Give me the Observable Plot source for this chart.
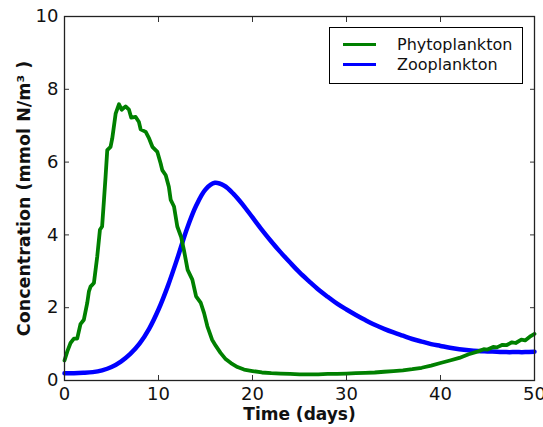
<!DOCTYPE html>
<html>
<head>
<meta charset="utf-8">
<script src="https://cdn.jsdelivr.net/npm/d3@7"></script>
<script src="https://cdn.jsdelivr.net/npm/@observablehq/plot@0.6"></script>
<style>
  html, body { margin: 0; padding: 0; background: #fff; }
  #wrap { position: relative; width: 543px; height: 427px; font-family: "DejaVu Sans", sans-serif; }
  #legend { position: absolute; left: 329px; top: 27px; width: 194px; height: 57px; border: 1.3px solid #000; background: #fff; box-sizing: border-box; }
  .item { position: absolute; left: 0; height: 20px; display: flex; align-items: center; font-size: 16px; color: #111; }
  .sw { width: 33px; height: 0; margin-left: 13px; margin-right: 21px; border-top: 3.5px solid; }
</style>
</head>
<body>
<div id="wrap"></div>
<script>
// ---- data ----
const phytoT = [0,0.3,0.64,1.0,1.35,1.7,2.06,2.42,2.6,2.77,3.13,3.48,3.77,4.0,4.2,4.37,4.55,4.9,5.08,5.44,5.8,6.08,6.5,6.86,7.1,7.57,7.92,8.1,8.64,9.0,9.35,9.88,10.23,10.4,10.77,11.1,11.3,11.65,12.0,12.4,12.7,13.1,13.6,14.0,14.5,14.85,15.2,15.7,16.1,16.6,17.1,17.7,18.4,19.1,20,21,22,23,24,25,26,27,28,29,30,31,32,33,34,35,36,37,38,39,40,41,42,43,44,44.6,45,45.6,46,46.6,47,47.6,48,48.6,49,49.6,50];
const phytoV = [0.55,0.8,1.03,1.15,1.15,1.55,1.67,2.13,2.45,2.58,2.68,3.4,4.14,4.23,4.96,5.6,6.33,6.42,6.65,7.33,7.59,7.44,7.53,7.44,7.22,7.24,7.1,6.9,6.83,6.65,6.42,6.28,5.96,5.78,5.64,5.32,4.96,4.78,4.23,3.95,3.59,3.04,2.77,2.31,2.13,1.85,1.49,1.12,0.95,0.76,0.6,0.48,0.37,0.3,0.26,0.22,0.2,0.19,0.18,0.17,0.17,0.17,0.18,0.18,0.19,0.2,0.21,0.22,0.24,0.26,0.28,0.31,0.35,0.41,0.48,0.55,0.62,0.72,0.8,0.86,0.85,0.92,0.91,0.98,0.97,1.05,1.03,1.12,1.1,1.22,1.28];
const zooT = [0,1,2,3,4,5,6,7,8,9,10,11,12,13,14,15,16,17,18,19,20,21,22,23,24,25,26,27,28,29,30,31,32,33,34,35,36,37,38,39,40,41,42,43,44,45,46,47,48,49,50];
const zooV = [0.2,0.2,0.21,0.23,0.28,0.37,0.52,0.73,1.02,1.42,1.95,2.6,3.35,4.15,4.8,5.25,5.43,5.35,5.12,4.82,4.48,4.14,3.82,3.52,3.24,2.97,2.73,2.5,2.3,2.11,1.95,1.8,1.66,1.53,1.42,1.32,1.23,1.14,1.07,1.0,0.95,0.9,0.86,0.83,0.81,0.8,0.79,0.78,0.78,0.78,0.79];
const xTicks = [0,10,20,30,40,50];
const yTicks = [0,2,4,6,8,10];
const seriesNames = ["Phytoplankton","Zooplankton"];
const seriesColors = ["#008000","#0000ff"];
const xLabel = "Time (days)";
const yLabel = "Concentration (mmol N/m\u00b3 )";

const phyto = phytoT.map((t,i)=>({t, v: phytoV[i]}));
const zoo = zooT.map((t,i)=>({t, v: zooV[i]}));

const chart = Plot.plot({
  width: 543, height: 427,
  marginLeft: 64, marginRight: 9, marginTop: 16, marginBottom: 47,
  style: {fontFamily: "DejaVu Sans, sans-serif", fontSize: "18px", color: "#111", background: "#fff", overflow: "visible"},
  x: {domain: [0,50]},
  y: {domain: [0,10]},
  marks: [
    Plot.line(zoo, {x: "t", y: "v", stroke: seriesColors[1], strokeWidth: 4.5, curve: "catmull-rom"}),
    Plot.line(phyto, {x: "t", y: "v", stroke: seriesColors[0], strokeWidth: 3.8, curve: "linear", strokeLinejoin: "round"}),
    Plot.axisX({anchor: "bottom", ticks: xTicks, tickSize: -5, tickPadding: 11.5, fontSize: 18, label: null, stroke: "#333"}),
    Plot.axisX({anchor: "top", ticks: xTicks, tickSize: -5, tickFormat: () => "", label: null, stroke: "#333"}),
    Plot.axisY({anchor: "left", ticks: yTicks, tickSize: -5, tickPadding: 11, fontSize: 18, label: null, stroke: "#333"}),
    Plot.axisY({anchor: "right", ticks: yTicks, tickSize: -5, tickFormat: () => "", label: null, stroke: "#333"}),
    Plot.frame({stroke: "#222", strokeWidth: 1.3}),
    Plot.text([xLabel], {frameAnchor: "bottom", dy: 34.5, fontWeight: "bold", fontSize: 17, textAnchor: "middle", lineAnchor: "middle", text: d => d}),
    Plot.text([yLabel], {frameAnchor: "left", rotate: -90, dx: -40, fontWeight: "bold", fontSize: 17.5, textAnchor: "middle", lineAnchor: "middle", text: d => d})
  ]
});

const wrap = document.getElementById("wrap");
wrap.appendChild(chart);
const legend = document.createElement("div");
legend.id = "legend";
seriesNames.forEach((name, i) => {
  const it = document.createElement("div");
  it.className = "item";
  it.style.top = (6 + i * 20) + "px";
  const sw = document.createElement("span");
  sw.className = "sw";
  sw.style.borderTopColor = seriesColors[i];
  const tx = document.createElement("span");
  tx.textContent = name;
  it.appendChild(sw); it.appendChild(tx);
  legend.appendChild(it);
});
wrap.appendChild(legend);
</script>
</body>
</html>
